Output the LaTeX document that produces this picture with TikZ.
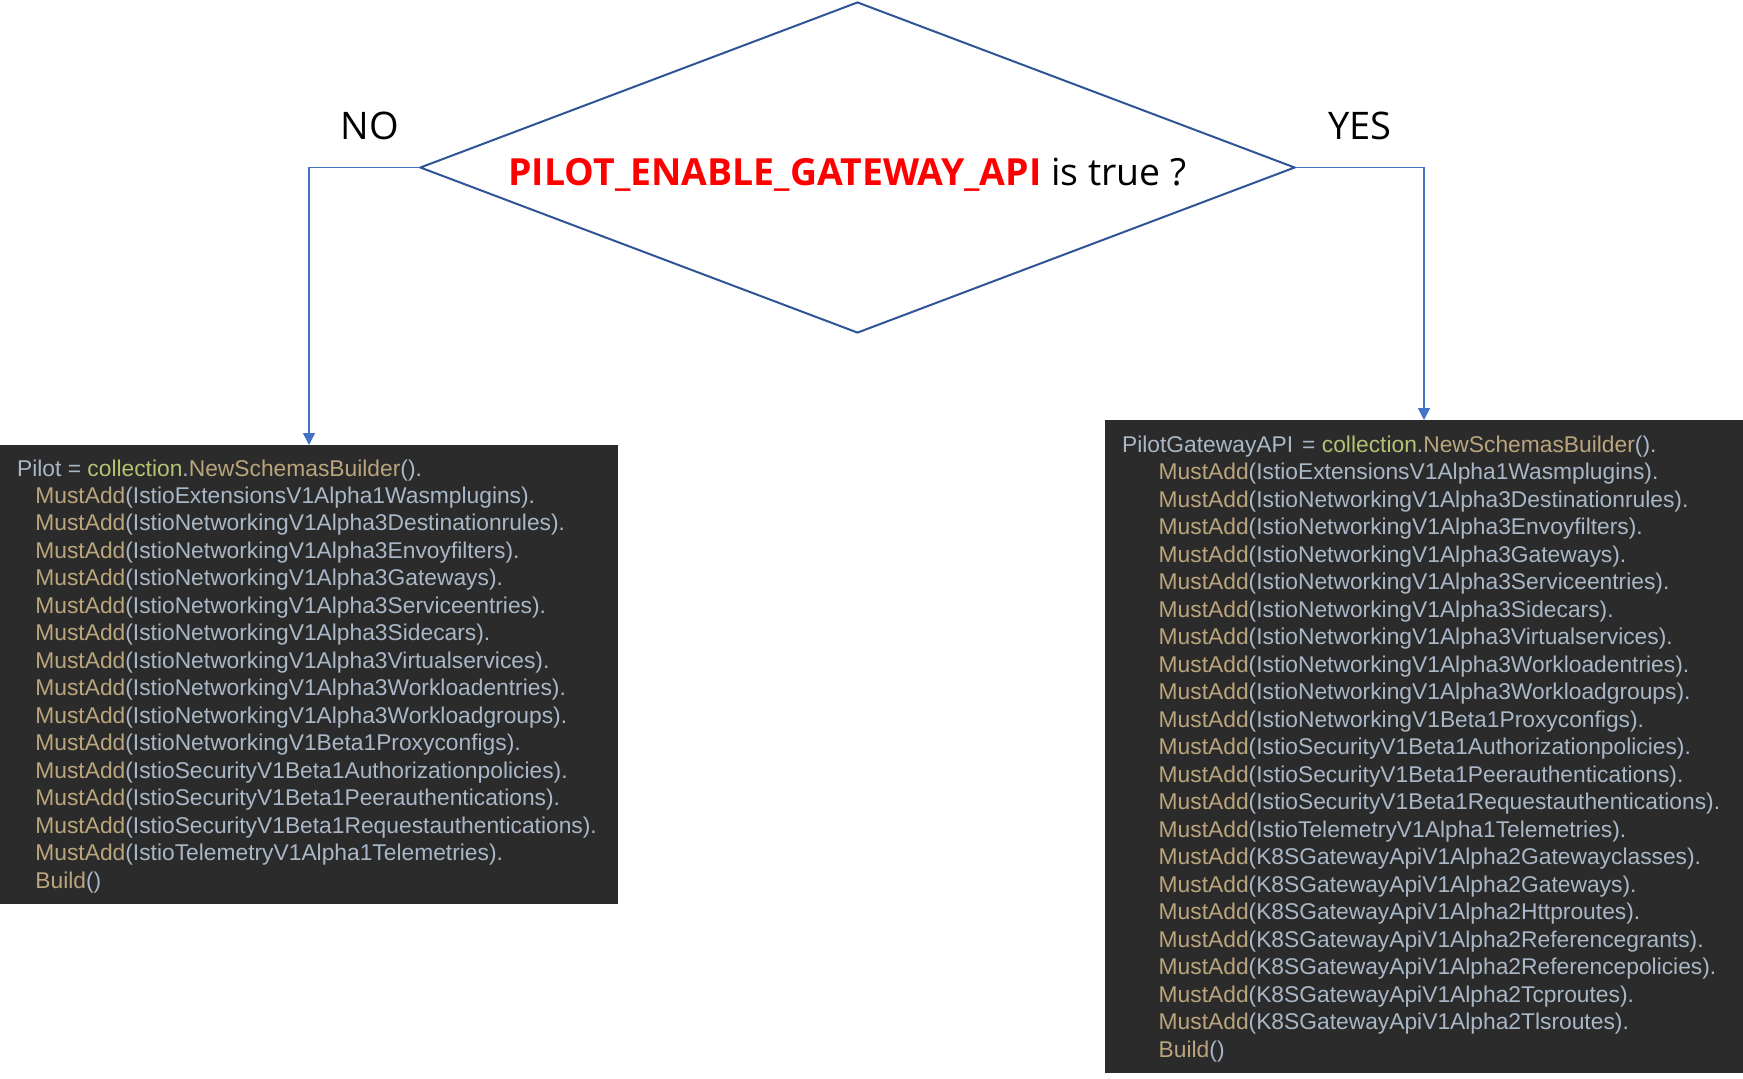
\documentclass[tikz,border=0pt]{standalone}
\usepackage{fontspec}
\setmainfont{Liberation Sans}
\newfontfamily\uifont{Open Sans}
\usetikzlibrary{arrows.meta,shapes.geometric}
\definecolor{codebg}{HTML}{2B2B2B}
\definecolor{codetxt}{HTML}{A9B7C6}
\definecolor{codefn}{HTML}{BBA57C}
\definecolor{codepkg}{HTML}{B4C373}
\definecolor{diablue}{HTML}{2F5597}
\definecolor{connblue}{HTML}{4472C4}
\newcommand{\fnc}[1]{{\color{codefn}#1}}
\begin{document}
\begin{tikzpicture}[x=0.5pt,y=-0.5pt,
  codebox/.style={fill=codebg,draw=none,inner sep=0pt,outer sep=0pt},
  code/.style={inner sep=0pt,text=codetxt,font=\fontsize{11.4}{13.75}\selectfont},
  conn/.style={draw=connblue,line width=0.75pt,-{Triangle[length=6pt,width=6pt]}},
  lbl/.style={inner sep=0pt,font=\uifont\fontsize{19}{22}\selectfont}]
\useasboundingbox (0,0) rectangle (1743,1078);
% decision
\node[diamond,draw=diablue,line width=1pt,minimum width=437.5pt,minimum height=165.5pt,inner sep=0pt] (dia) at (857.5,167.5) {};
\node[lbl,anchor=base,font=\uifont\fontsize{18.7}{22}\selectfont] (cond) at (847.5,185.7) {{\color{red}\bfseries PILOT\_ENABLE\_GATEWAY\_API} is true ?};
\node[lbl,anchor=base west] (no) at (340,139) {NO};
\node[lbl,anchor=base west] (yes) at (1328,139) {YES};
% boxes
\node[codebox,minimum width=309pt,minimum height=229.5pt] (nobox) at (309,674.5) {};
\node[codebox,minimum width=319pt,minimum height=326.5pt] (yesbox) at (1424,746.5) {};
% connectors
\draw[conn] (dia.west) -| (nobox.north);
\draw[conn] (dia.east) -| (yesbox.north);
% left code
\node[code,anchor=base west] (nohead) at (16.7,476) {Pilot = {\color{codepkg}collection}.\fnc{NewSchemasBuilder}().};
\foreach \t [count=\i] in {IstioExtensionsV1Alpha1Wasmplugins,IstioNetworkingV1Alpha3Destinationrules,IstioNetworkingV1Alpha3Envoyfilters,IstioNetworkingV1Alpha3Gateways,IstioNetworkingV1Alpha3Serviceentries,IstioNetworkingV1Alpha3Sidecars,IstioNetworkingV1Alpha3Virtualservices,IstioNetworkingV1Alpha3Workloadentries,IstioNetworkingV1Alpha3Workloadgroups,IstioNetworkingV1Beta1Proxyconfigs,IstioSecurityV1Beta1Authorizationpolicies,IstioSecurityV1Beta1Peerauthentications,IstioSecurityV1Beta1Requestauthentications,IstioTelemetryV1Alpha1Telemetries}
  \node[code,anchor=base west] (nol\i) at (35,{476+\i*27.47}) {\fnc{MustAdd}(\t).};
\node[code,anchor=base west] (nobuild) at (35,{476+15*27.47}) {\fnc{Build}()};
% right code
\node[code,anchor=base west] (yeshead) at (1121.7,452.3) {PilotGatewayAPI\hspace{0.12em} = {\color{codepkg}collection}.\fnc{NewSchemasBuilder}().};
\foreach \t [count=\i] in {IstioExtensionsV1Alpha1Wasmplugins,IstioNetworkingV1Alpha3Destinationrules,IstioNetworkingV1Alpha3Envoyfilters,IstioNetworkingV1Alpha3Gateways,IstioNetworkingV1Alpha3Serviceentries,IstioNetworkingV1Alpha3Sidecars,IstioNetworkingV1Alpha3Virtualservices,IstioNetworkingV1Alpha3Workloadentries,IstioNetworkingV1Alpha3Workloadgroups,IstioNetworkingV1Beta1Proxyconfigs,IstioSecurityV1Beta1Authorizationpolicies,IstioSecurityV1Beta1Peerauthentications,IstioSecurityV1Beta1Requestauthentications,IstioTelemetryV1Alpha1Telemetries,K8SGatewayApiV1Alpha2Gatewayclasses,K8SGatewayApiV1Alpha2Gateways,K8SGatewayApiV1Alpha2Httproutes,K8SGatewayApiV1Alpha2Referencegrants,K8SGatewayApiV1Alpha2Referencepolicies,K8SGatewayApiV1Alpha2Tcproutes,K8SGatewayApiV1Alpha2Tlsroutes}
  \node[code,anchor=base west] (yesl\i) at (1158.3,{452.3+\i*27.5}) {\fnc{MustAdd}(\t).};
\node[code,anchor=base west] (yesbuild) at (1158.3,{452.3+22*27.5}) {\fnc{Build}()};
\end{tikzpicture}
\end{document}
